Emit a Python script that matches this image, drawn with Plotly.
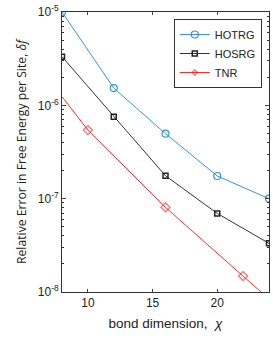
import plotly.graph_objects as go

chi_hotrg = [8, 12, 16, 20, 24]
err_hotrg = [1.0e-5, 1.53e-6, 4.97e-7, 1.75e-7, 1.0e-7]
chi_hosrg = [8, 12, 16, 20, 24]
err_hosrg = [3.32e-6, 7.55e-7, 1.76e-7, 6.95e-8, 3.32e-8]
chi_tnr = [8, 10, 16, 22, 24]
err_tnr = [1.24e-6, 5.43e-7, 8.07e-8, 1.48e-8, 8.4e-9]
tnr_marker_sizes = [0, 7, 7, 7, 0]

y_tickvals = [1e-8, 1e-7, 1e-6, 1e-5]
y_ticktext = ["10<sup>-8</sup>", "10<sup>-7</sup>", "10<sup>-6</sup>", "10<sup>-5</sup>"]
x_tickvals = [10, 15, 20]
minor_vals = [m * 10.0 ** e for e in (-8, -7, -6) for m in range(2, 10)]

fig = go.Figure()
fig.add_trace(go.Scatter(x=chi_hotrg, y=err_hotrg, name="HOTRG", mode="lines+markers",
                         line=dict(color="#3a93d6", width=1),
                         marker=dict(symbol="circle-open", size=7, color="#3a93d6", line=dict(width=1.2))))
fig.add_trace(go.Scatter(x=chi_hosrg, y=err_hosrg, name="HOSRG", mode="lines+markers",
                         line=dict(color="#333333", width=1),
                         marker=dict(symbol="square-open", size=5, color="#222222", line=dict(width=1.5))))
fig.add_trace(go.Scatter(x=chi_tnr, y=err_tnr, name="TNR", mode="lines+markers",
                         line=dict(color="#ff2a2a", width=1),
                         marker=dict(symbol="diamond-open", size=tnr_marker_sizes, color="#ff2a2a", line=dict(width=1.2))))

fig.update_layout(
    width=273, height=341,
    margin=dict(l=62, r=4, t=12, b=49),
    paper_bgcolor="white", plot_bgcolor="white",
    font=dict(family="Liberation Sans, Arial", size=12, color="#222"),
    showlegend=True,
    legend=dict(x=0.965, y=0.975, xanchor="right", yanchor="top",
                bordercolor="#333", borderwidth=1, bgcolor="white",
                font=dict(size=11), tracegroupgap=0, itemwidth=30),
    xaxis=dict(range=[8, 24], tickvals=x_tickvals, ticks="inside", ticklen=3,
               showline=True, linecolor="#333", linewidth=1, mirror="ticks",
               showgrid=False, zeroline=False,
               title=dict(text="bond dimension,&nbsp;&nbsp;<i>χ</i>", font=dict(size=13.5), standoff=9)),
    yaxis=dict(type="log", range=[-8, -5], tickvals=y_tickvals, ticktext=y_ticktext,
               ticks="inside", ticklen=4,
               showline=True, linecolor="#333", linewidth=1, mirror="ticks",
               showgrid=False, zeroline=False,
               minor=dict(tickvals=minor_vals, ticks="inside", ticklen=2, tickcolor="#333"),
               title=dict(text="Relative Error in Free Energy per Site, <i>δf</i>",
                          font=dict(family="Open Sans", size=12.2), standoff=8)),
)

fig.write_html("out.html", post_script="document.body.style.margin='0';",
               config={"displayModeBar": False})
